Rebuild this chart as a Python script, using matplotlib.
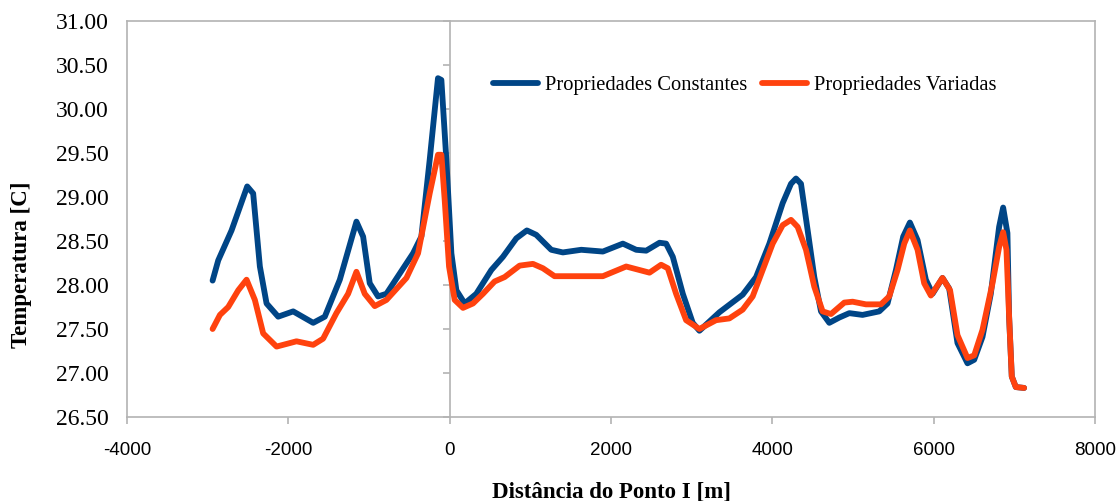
import matplotlib
matplotlib.use("Agg")
from matplotlib import pyplot as plt

# distance from point I [m] and temperature [C]
x_const = [-2939, -2869, -2704, -2510, -2436, -2353, -2270, -2126, -1940, -1692,
           -1548, -1362, -1156, -1073, -991, -888, -784, -619, -454, -351,
           -248, -145, -103, -41, 21, 83, 186, 330, 516, 660,
           826, 957, 1073, 1259, 1403, 1631, 1899, 2147, 2312, 2436,
           2601, 2683, 2766, 2890, 3013, 3096, 3261, 3344, 3632, 3798,
           3963, 4128, 4231, 4293, 4355, 4438, 4520, 4603, 4706, 4830,
           4954, 5118, 5325, 5428, 5532, 5622, 5705, 5800, 5903, 5986,
           6109, 6192, 6295, 6419, 6502, 6605, 6708, 6811, 6861, 6914,
           6935, 6968, 7018, 7121]
t_const = [28.05, 28.28, 28.62, 29.12, 29.04, 28.21, 27.79, 27.64, 27.70, 27.57,
           27.64, 28.06, 28.72, 28.55, 28.02, 27.87, 27.90, 28.13, 28.36, 28.55,
           29.42, 30.35, 30.33, 29.42, 28.36, 27.94, 27.79, 27.90, 28.17, 28.32,
           28.53, 28.62, 28.57, 28.40, 28.37, 28.40, 28.38, 28.47, 28.40, 28.39,
           28.48, 28.47, 28.32, 27.90, 27.57, 27.48, 27.62, 27.69, 27.89, 28.09,
           28.47, 28.93, 29.15, 29.21, 29.15, 28.62, 28.09, 27.70, 27.57, 27.63,
           27.68, 27.66, 27.70, 27.79, 28.17, 28.55, 28.71, 28.51, 28.06, 27.90,
           28.08, 27.96, 27.34, 27.11, 27.15, 27.41, 27.90, 28.66, 28.88, 28.59,
           27.64, 26.96, 26.84, 26.83]

x_var = [-2939, -2848, -2745, -2621, -2518, -2415, -2312, -2146, -1899, -1692,
         -1569, -1404, -1259, -1156, -1053, -929, -784, -536, -392, -248,
         -145, -103, -62, -8, 62, 165, 289, 413, 557, 681,
         867, 1032, 1156, 1300, 1610, 1899, 2188, 2477, 2621, 2704,
         2807, 2931, 3096, 3302, 3467, 3632, 3756, 3880, 4004, 4128,
         4231, 4314, 4417, 4520, 4623, 4727, 4892, 4995, 5160, 5346,
         5449, 5552, 5635, 5705, 5800, 5882, 5965, 6109, 6203, 6295,
         6419, 6502, 6605, 6729, 6811, 6861, 6902, 6935, 6968, 7018,
         7121]
t_var = [27.50, 27.66, 27.75, 27.94, 28.06, 27.83, 27.45, 27.30, 27.36, 27.32,
         27.39, 27.68, 27.90, 28.15, 27.90, 27.76, 27.83, 28.08, 28.36, 29.04,
         29.48, 29.48, 28.97, 28.21, 27.83, 27.74, 27.79, 27.90, 28.04, 28.09,
         28.22, 28.24, 28.19, 28.10, 28.10, 28.10, 28.21, 28.14, 28.23, 28.19,
         27.90, 27.60, 27.50, 27.60, 27.62, 27.72, 27.87, 28.17, 28.47, 28.68,
         28.74, 28.66, 28.40, 27.98, 27.70, 27.67, 27.80, 27.81, 27.78, 27.78,
         27.87, 28.17, 28.47, 28.62, 28.40, 28.02, 27.88, 28.08, 27.94, 27.43,
         27.17, 27.20, 27.49, 28.02, 28.43, 28.60, 28.40, 27.64, 26.96, 26.84,
         26.83]

labels = ["Propriedades Constantes", "Propriedades Variadas"]
colors = ["#004586", "#ff420e"]
xticks = [-4000, -2000, 0, 2000, 4000, 6000, 8000]
yticks = [26.5, 27.0, 27.5, 28.0, 28.5, 29.0, 29.5, 30.0, 30.5, 31.0]

serif = "Liberation Serif"
sans = "Liberation Sans"
grey = "#b3b3b3"

fig = plt.figure(figsize=(11.2, 5.01), dpi=100)
ax = fig.add_axes([0.1134, 0.1677, 0.8643, 0.7904])

for xs, ts, lab, col in [(x_const, t_const, labels[0], colors[0]),
                         (x_var, t_var, labels[1], colors[1])]:
    ax.plot(xs, ts, color=col, lw=4.2, label=lab,
            solid_capstyle="round", solid_joinstyle="round")

ax.set_xlim(-4000, 8000)
ax.set_ylim(26.5, 31.0)
ax.set_xticks(xticks)
ax.set_yticks(yticks)
ax.set_yticklabels([f"{v:.2f}" for v in yticks], fontfamily=serif, fontsize=17)
ax.set_xticklabels([str(v) for v in xticks], fontfamily=sans, fontsize=13.5)
ax.tick_params(axis="y", left=False, length=0, pad=13)
ax.tick_params(axis="x", length=5, width=1.2, color=grey, pad=13)
for s in ax.spines.values():
    s.set_color(grey)
    s.set_linewidth(1.2)

# vertical axis line sits at x = 0 with its ticks
vax = ax.secondary_yaxis(1 / 3)
vax.set_yticks(yticks)
vax.set_yticklabels([])
vax.tick_params(length=5, width=1.2, color=grey)
vax.spines["left"].set_color(grey)
vax.spines["left"].set_linewidth(1.2)

ax.set_xlabel("Distância do Ponto I [m]", fontfamily=serif, fontsize=16.5,
              fontweight="bold", labelpad=16)
ax.set_ylabel("Temperatura [C]", fontfamily=serif, fontsize=16.5, fontweight="bold")
ax.yaxis.set_label_coords(-0.098, 0.384)

ax.legend(loc="upper left", bbox_to_anchor=(0.378, 0.862), ncol=2, frameon=False,
          prop={"family": serif, "size": 14.8}, handlelength=2.2,
          handletextpad=0.35, columnspacing=0.7, borderpad=0, borderaxespad=0)

fig.savefig("out.png", dpi=100)
